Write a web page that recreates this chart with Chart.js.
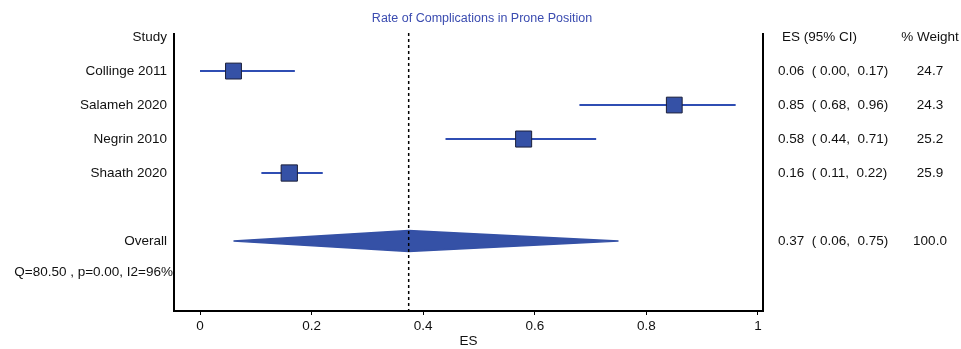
<!DOCTYPE html>
<html>
<head>
<meta charset="utf-8">
<script src="https://cdn.jsdelivr.net/npm/chart.js@4.4.0/dist/chart.umd.min.js"></script>
<style>
  html, body { margin: 0; padding: 0; background: #fff; }
</style>
</head>
<body>
<canvas id="forest" width="961" height="349"></canvas>
<script>
// data
const studies = ['Collinge 2011', 'Salameh 2020', 'Negrin 2010', 'Shaath 2020'];
const es = [0.06, 0.85, 0.58, 0.16];
const ciLow = [0.00, 0.68, 0.44, 0.11];
const ciHigh = [0.17, 0.96, 0.71, 0.22];
const weights = [24.7, 24.3, 25.2, 25.9];
const overallES = 0.374;
const overallLow = 0.06;
const overallHigh = 0.75;
const overallWeight = 100.0;
const heterogeneity = 'Q=80.50 , p=0.00, I2=96%';
const xTicks = [0, 0.2, 0.4, 0.6, 0.8, 1];

const FONT = "'Liberation Sans', Arial, sans-serif";
const BLUE = '#2f4db3';
const FILL = '#3551a6';

// row positions (0 = header row)
const studyRows = studies.map((s, i) => i + 1);
const overallRow = 6;
const hetRow = 7;
const yMin = -0.12, yMax = 8.06;

const ciText = (e, lo, hi) => e.toFixed(2) + '  ( ' + lo.toFixed(2) + ',  ' + hi.toFixed(2) + ')';

const ciSets = studies.map((s, i) => ({
  type: 'scatter',
  showLine: true,
  data: [{ x: ciLow[i], y: studyRows[i] }, { x: ciHigh[i], y: studyRows[i] }],
  borderColor: BLUE,
  borderWidth: 2,
  pointRadius: 0,
  order: 2
}));

const forestText = {
  id: 'forestText',
  afterDraw: (chart) => {
    const { ctx, chartArea: { left, right, top, bottom }, scales: { y } } = chart;
    ctx.save();

    // frame sides
    ctx.strokeStyle = '#000';
    ctx.lineWidth = 2;
    ctx.beginPath();
    ctx.moveTo(left, top);
    ctx.lineTo(left, bottom);
    ctx.moveTo(right, top);
    ctx.lineTo(right, bottom);
    ctx.stroke();

    // title
    ctx.fillStyle = '#3b4cb0';
    ctx.font = '12.5px ' + FONT;
    ctx.textAlign = 'center';
    ctx.textBaseline = 'middle';
    ctx.fillText('Rate of Complications in Prone Position', 482, 19);

    ctx.fillStyle = '#111';
    ctx.font = '13.5px ' + FONT;

    // left column
    ctx.textAlign = 'right';
    ctx.fillText('Study', left - 7, y.getPixelForValue(0));
    studies.forEach((s, i) => ctx.fillText(s, left - 7, y.getPixelForValue(studyRows[i])));
    ctx.fillText('Overall', left - 7, y.getPixelForValue(overallRow));
    ctx.fillText(heterogeneity, left - 1, y.getPixelForValue(hetRow) - 3);

    // right columns
    const esX = right + 15;
    const wX = 930;
    ctx.textAlign = 'left';
    ctx.fillText('ES (95% CI)', esX + 4, y.getPixelForValue(0));
    studies.forEach((s, i) => ctx.fillText(ciText(es[i], ciLow[i], ciHigh[i]), esX, y.getPixelForValue(studyRows[i])));
    ctx.fillText(ciText(overallES, overallLow, overallHigh), esX, y.getPixelForValue(overallRow));

    ctx.textAlign = 'center';
    ctx.fillText('% Weight', wX, y.getPixelForValue(0));
    weights.forEach((w, i) => ctx.fillText(w.toFixed(1), wX, y.getPixelForValue(studyRows[i])));
    ctx.fillText(overallWeight.toFixed(1), wX, y.getPixelForValue(overallRow));

    ctx.restore();
  }
};

const ctx = document.getElementById('forest').getContext('2d');
new Chart(ctx, {
  data: {
    datasets: [
      {
        type: 'scatter',
        showLine: true,
        data: [{ x: overallES, y: yMin }, { x: overallES, y: yMax }],
        borderColor: '#000',
        borderWidth: 1.5,
        borderDash: [3, 3],
        pointRadius: 0,
        order: 0
      },
      {
        type: 'scatter',
        data: studies.map((s, i) => ({ x: es[i], y: studyRows[i] })),
        pointStyle: 'rect',
        pointRadius: weights.map(w => 11.3 * Math.sqrt(w / 25)),
        backgroundColor: FILL,
        borderColor: '#1b1f3a',
        borderWidth: 1,
        order: 1
      },
      ...ciSets,
      {
        type: 'scatter',
        showLine: true,
        data: [
          { x: overallLow, y: overallRow },
          { x: overallES, y: overallRow - 0.31 },
          { x: overallHigh, y: overallRow },
          { x: overallES, y: overallRow + 0.31 },
          { x: overallLow, y: overallRow }
        ],
        borderColor: FILL,
        backgroundColor: FILL,
        borderWidth: 1.5,
        fill: 'shape',
        pointRadius: 0,
        order: 3
      }
    ]
  },
  options: {
    responsive: false,
    animation: false,
    layout: { padding: { left: 174, right: 198, top: 33, bottom: 0 } },
    plugins: {
      legend: { display: false },
      tooltip: { enabled: false }
    },
    scales: {
      x: {
        type: 'linear',
        min: -0.0466,
        max: 1.009,
        afterBuildTicks: (scale) => { scale.ticks = xTicks.map(v => ({ value: v })); },
        afterFit: (scale) => { scale.height = 38; },
        grid: { drawOnChartArea: false, drawTicks: true, tickLength: 4, color: '#000' },
        border: { display: true, color: '#000', width: 2 },
        ticks: {
          color: '#111',
          font: { family: FONT, size: 13.5 },
          padding: 3,
          callback: (v) => String(v)
        },
        title: { display: true, text: 'ES', color: '#111', font: { family: FONT, size: 13.5 }, padding: { top: 0, bottom: 0 } }
      },
      y: {
        type: 'linear',
        min: yMin,
        max: yMax,
        reverse: true,
        display: false
      }
    }
  },
  plugins: [forestText]
});
</script>
</body>
</html>
